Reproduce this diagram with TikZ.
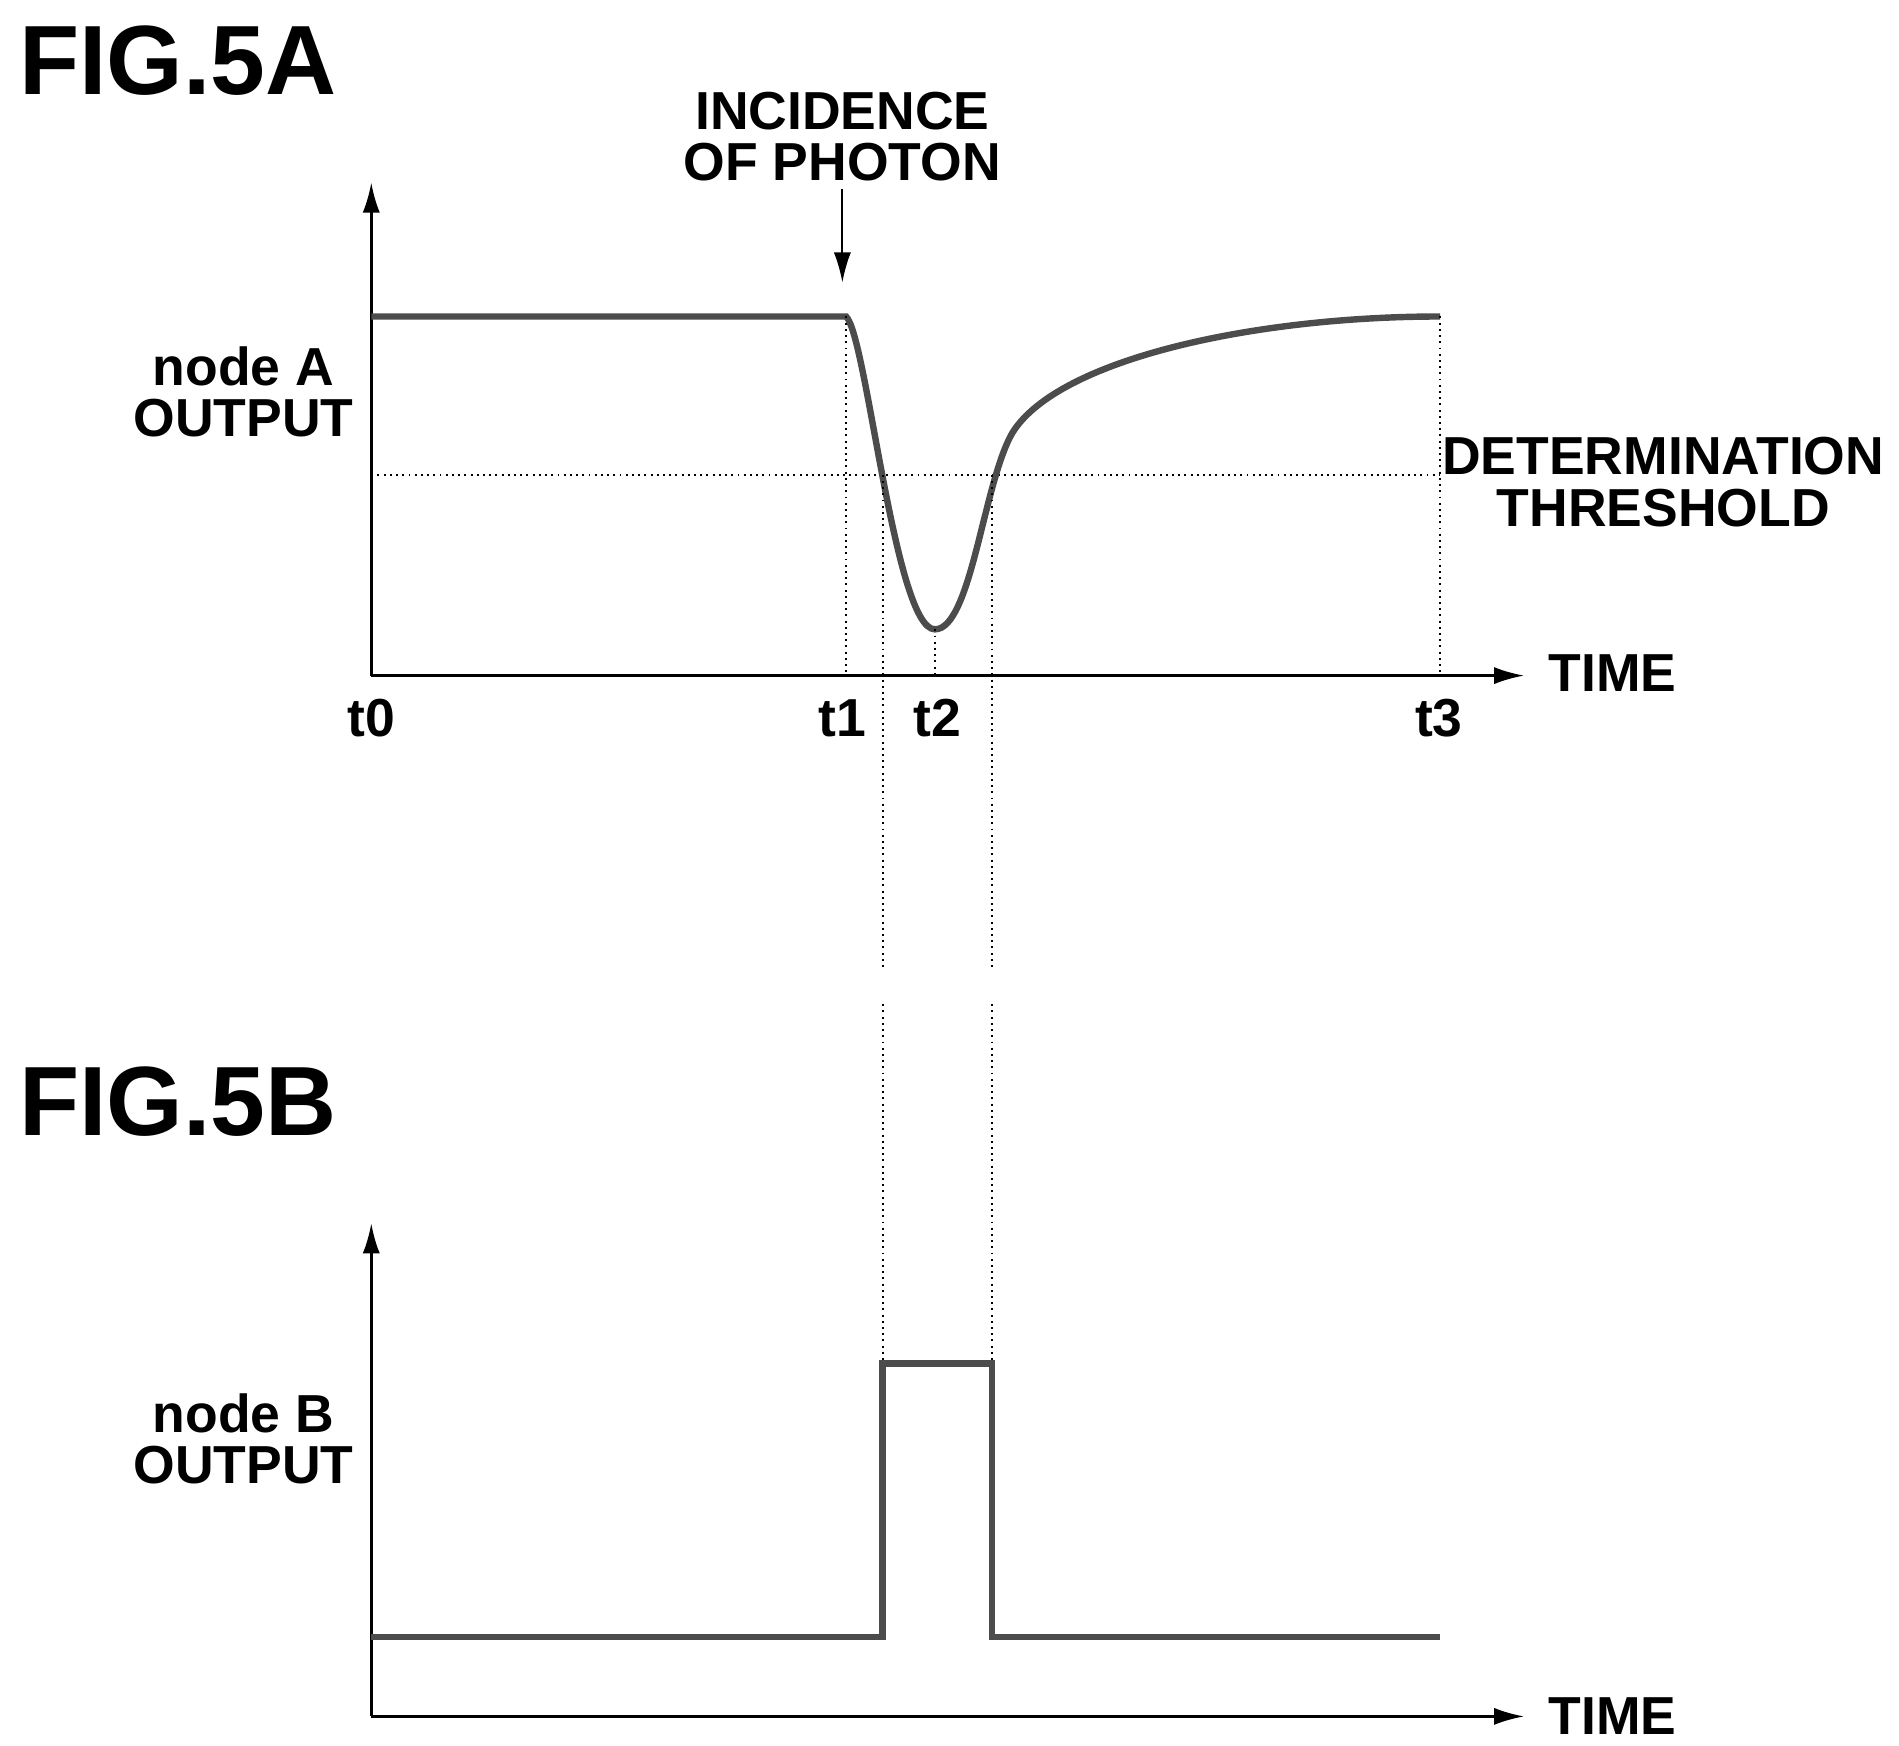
\documentclass[tikz,border=0pt]{standalone}
\usepackage{fontspec}
\setmainfont{Liberation Sans}
\usetikzlibrary{arrows.meta}
\tikzset{
  lbl/.style={font=\bfseries\fontsize{12.5}{12}\selectfont, align=center, inner sep=1pt},
  fig/.style={font=\bfseries\fontsize{23}{24}\selectfont, anchor=west, inner sep=0pt},
  axis/.style={line width=0.6pt, -{Latex[length=7pt,width=4pt]}},
  sig/.style={line width=1.5pt, gray!60!black},
  guide/.style={densely dotted, line width=0.45pt}
}
\begin{document}
\begin{tikzpicture}[x=0.01cm, y=-0.01cm]
		\useasboundingbox (0,0) rectangle (1560,1434);
		% FIG.5A
		\node[fig] (figA) at (15,50) {FIG.5A};
		\coordinate (oA) at (305,555);
		\coordinate (yA) at (305,150);
		\coordinate (xA) at (1252,555);
		\draw[axis] (oA) -- (yA);
		\draw[axis] (oA) -- (xA);
		\node[lbl, anchor=west] (timeA) at (1268,553) {TIME};
		\node[lbl] (nodeA) at (200,322) {node A\\OUTPUT};
		\node[lbl] (photon) at (692,112) {INCIDENCE\\OF PHOTON};
		\coordinate (hit) at (692,232);
		\draw[line width=0.45pt, -{Latex[length=7pt,width=4pt]}] (692,155) -- (hit);
		\node[lbl, anchor=east] (thr) at (1552,396) {DETERMINATION\\THRESHOLD};
		\draw[guide] (305,390) -- (1183,390);
		% signal of node A
		\coordinate (t1s) at (695,260);
		\coordinate (dip) at (768,517);
		\coordinate (endA) at (1183,260);
		\draw[sig] (305,260) -- (t1s)
			.. controls (712,275) and (735,517) .. (dip)
			.. controls (798,517) and (808,395) .. (832,355)
			.. controls (870,295) and (1030,260) .. (endA);
		% guides
		\draw[guide] (695,260) -- (695,555);
		\draw[guide] (768,517) -- (768,555);
		\draw[guide] (1183,260) -- (1183,555);
		\draw[guide] (725,390) -- (725,795) (725,825) -- (725,1120);
		\draw[guide] (815,390) -- (815,795) (815,825) -- (815,1120);
		\node[lbl] (t0) at (305,590) {t0};
		\node[lbl] (t1) at (692,590) {t1};
		\node[lbl] (t2) at (770,590) {t2};
		\node[lbl] (t3) at (1182,590) {t3};
		% FIG.5B
		\node[fig] (figB) at (15,905) {FIG.5B};
		\coordinate (oB) at (305,1410);
		\draw[axis] (oB) -- (305,1005);
		\draw[axis] (oB) -- (1252,1410);
		\node[lbl, anchor=west] (timeB) at (1268,1410) {TIME};
		\node[lbl] (nodeB) at (200,1182) {node B\\OUTPUT};
		\draw[sig] (305,1345) -- (725,1345) -- (725,1120) -- (815,1120)
			-- (815,1345) -- (1183,1345);
	\end{tikzpicture}
\end{document}
